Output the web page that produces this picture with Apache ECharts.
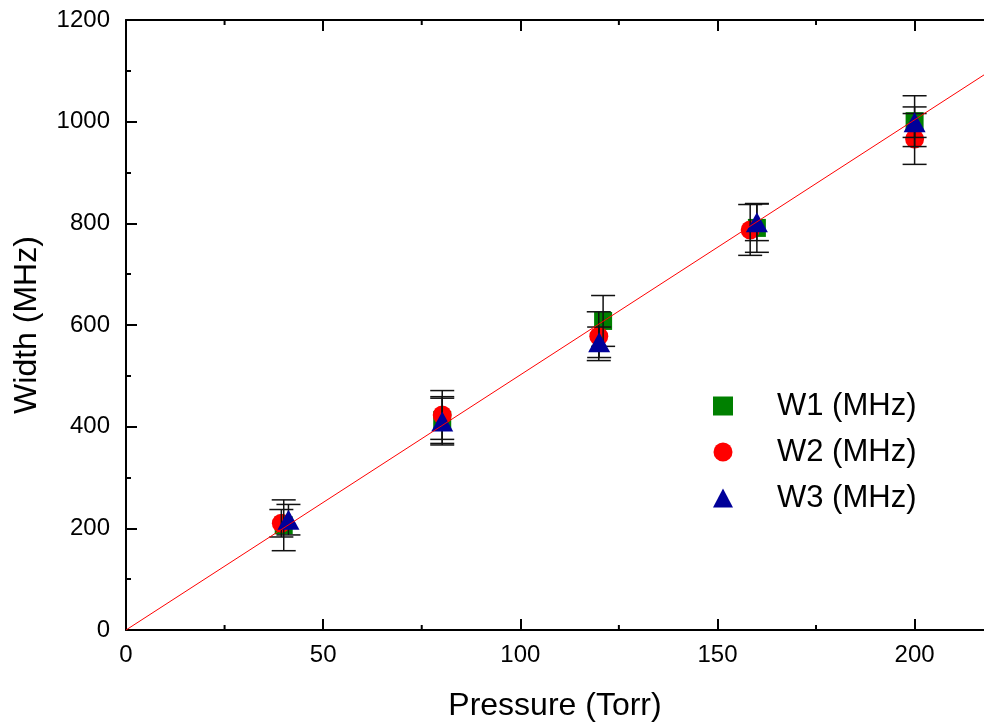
<!DOCTYPE html>
<html>
<head>
<meta charset="utf-8">
<script src="https://cdn.jsdelivr.net/npm/echarts@6/dist/echarts.min.js"></script>
<style>html,body{margin:0;padding:0;background:#fff}#c{width:984px;height:722px}</style>
</head>
<body>
<div id="c"></div>
<script>
// ---- data ----
var xTicks = [0, 50, 100, 150, 200];
var xMinorTicks = [25, 75, 125, 175];
var yTicks = [0, 200, 400, 600, 800, 1000, 1200];

var w1X = [40, 80.2, 121, 160, 200];
var w1Y = [206, 413, 608, 791, 1001];
var w1Err = [50, 46, 50, 48, 50];

var w2X = [39.4, 80.2, 119.9, 158.3, 200];
var w2Y = [210, 423, 578, 787, 966];
var w2Err = [27, 48, 48, 50, 50];

var w3X = [41.2, 80.2, 120, 160, 200];
var w3Y = [217, 410, 566, 802, 999];
var w3Err = [30, 46, 30, 36, 30];

var fitX = [0, 217.6];
var fitY = [0, 1092];

var seriesNames = ['W1 (MHz)', 'W2 (MHz)', 'W3 (MHz)'];

// ---- build ----
function pairs(xs, ys) { return xs.map(function (x, i) { return [x, ys[i]]; }); }
function errData(xs, ys, es) { return xs.map(function (x, i) { return [x, ys[i], es[i]]; }); }

var FONT = 'Liberation Sans, Arial, sans-serif';
var X_MIN = 0, X_MAX = 217.6, Y_MIN = 0, Y_MAX = 1200;

function errSeries(xs, ys, es) {
  return {
    type: 'custom',
    silent: true,
    z: 3,
    data: errData(xs, ys, es),
    renderItem: function (params, api) {
      var x = api.value(0), y = api.value(1), e = api.value(2);
      var top = api.coord([x, y + e]);
      var bot = api.coord([x, y - e]);
      var hw = 12;
      var st = { stroke: '#111', lineWidth: 1.5 };
      return {
        type: 'group',
        children: [
          { type: 'line', shape: { x1: top[0], y1: top[1], x2: bot[0], y2: bot[1] }, style: st },
          { type: 'line', shape: { x1: top[0] - hw, y1: top[1], x2: top[0] + hw, y2: top[1] }, style: st },
          { type: 'line', shape: { x1: bot[0] - hw, y1: bot[1], x2: bot[0] + hw, y2: bot[1] }, style: st }
        ]
      };
    }
  };
}

// minor ticks of the x axes (top and bottom), placed through the axis scale
var minorTickSeries = {
  type: 'custom', silent: true, z: 6, clip: false,
  data: xMinorTicks.map(function (v) { return [v, Y_MIN]; }),
  renderItem: function (params, api) {
    var x = api.value(0);
    var b = api.coord([x, Y_MIN]);
    var t = api.coord([x, Y_MAX]);
    var st = { stroke: '#000', lineWidth: 2 };
    return {
      type: 'group',
      children: [
        { type: 'line', shape: { x1: b[0], y1: b[1], x2: b[0], y2: b[1] - 5 }, style: st },
        { type: 'line', shape: { x1: t[0], y1: t[1], x2: t[0], y2: t[1] + 5 }, style: st }
      ]
    };
  }
};

var axisLineStyle = { color: '#000', width: 2 };

var xCommon = {
  type: 'value', min: X_MIN, max: X_MAX, interval: 50,
  splitLine: { show: false },
  axisLine: { show: true, onZero: false, lineStyle: axisLineStyle },
  axisTick: { show: true, inside: true, length: 11, customValues: xTicks, lineStyle: { color: '#000', width: 2 } },
  minorTick: { show: false }
};

var option = {
  animation: false,
  backgroundColor: '#fff',
  grid: { left: 126, right: 0, top: 20, bottom: 92, containLabel: false, outerBoundsMode: 'none' },
  xAxis: [
    Object.assign({}, xCommon, {
      position: 'bottom',
      name: 'Pressure (Torr)', nameLocation: 'middle', nameGap: 60,
      nameTextStyle: { fontSize: 32, color: '#000', fontFamily: FONT },
      axisLabel: {
        fontSize: 24, color: '#000', fontFamily: FONT, margin: 13, customValues: xTicks,
        formatter: function (v) { return xTicks.indexOf(v) >= 0 ? String(v) : ''; }
      }
    }),
    Object.assign({}, xCommon, { position: 'top', axisLabel: { show: false } })
  ],
  yAxis: [{
    type: 'value', min: Y_MIN, max: Y_MAX, interval: 200,
    name: 'Width (MHz)', nameLocation: 'middle', nameGap: 83,
    nameTextStyle: { fontSize: 32, color: '#000', fontFamily: FONT },
    splitLine: { show: false },
    axisLine: { show: true, onZero: false, lineStyle: axisLineStyle },
    axisTick: { show: true, inside: true, length: 11, lineStyle: { color: '#000', width: 2 } },
    minorTick: { show: true, splitNumber: 2, length: 5, lineStyle: { color: '#000', width: 2 } },
    axisLabel: {
      fontSize: 24, color: '#000', fontFamily: FONT, margin: 16,
      formatter: function (v) { return yTicks.indexOf(v) >= 0 ? String(v) : ''; }
    }
  }],
  legend: {
    orient: 'vertical', left: 713, top: 383, padding: 0,
    itemWidth: 20, itemHeight: 19, itemGap: 0,
    textStyle: { fontSize: 31, lineHeight: 46, color: '#000', fontFamily: FONT, padding: [0, 0, 0, 39] },
    data: [
      { name: seriesNames[0], icon: 'rect' },
      { name: seriesNames[1], icon: 'circle' },
      { name: seriesNames[2], icon: 'triangle' }
    ]
  },
  series: [
    {
      name: seriesNames[0], type: 'scatter', symbol: 'rect', symbolSize: 18, z: 2,
      itemStyle: { color: '#008000', opacity: 1 }, data: pairs(w1X, w1Y)
    },
    {
      name: seriesNames[1], type: 'scatter', symbol: 'circle', symbolSize: 19, z: 2,
      itemStyle: { color: '#ff0000', opacity: 1 }, data: pairs(w2X, w2Y)
    },
    errSeries(w1X, w1Y, w1Err),
    errSeries(w2X, w2Y, w2Err),
    errSeries(w3X, w3Y, w3Err),
    {
      name: seriesNames[2], type: 'scatter', symbol: 'triangle', symbolSize: [22, 20], z: 4,
      itemStyle: { color: '#000099', opacity: 1 }, data: pairs(w3X, w3Y)
    },
    {
      type: 'line', z: 5, silent: true, symbol: 'none',
      lineStyle: { color: '#ff0000', width: 1 }, data: pairs(fitX, fitY)
    },
    minorTickSeries
  ]
};

var chart = echarts.init(document.getElementById('c'), null, { renderer: 'canvas' });
chart.setOption(option);
</script>
</body>
</html>
